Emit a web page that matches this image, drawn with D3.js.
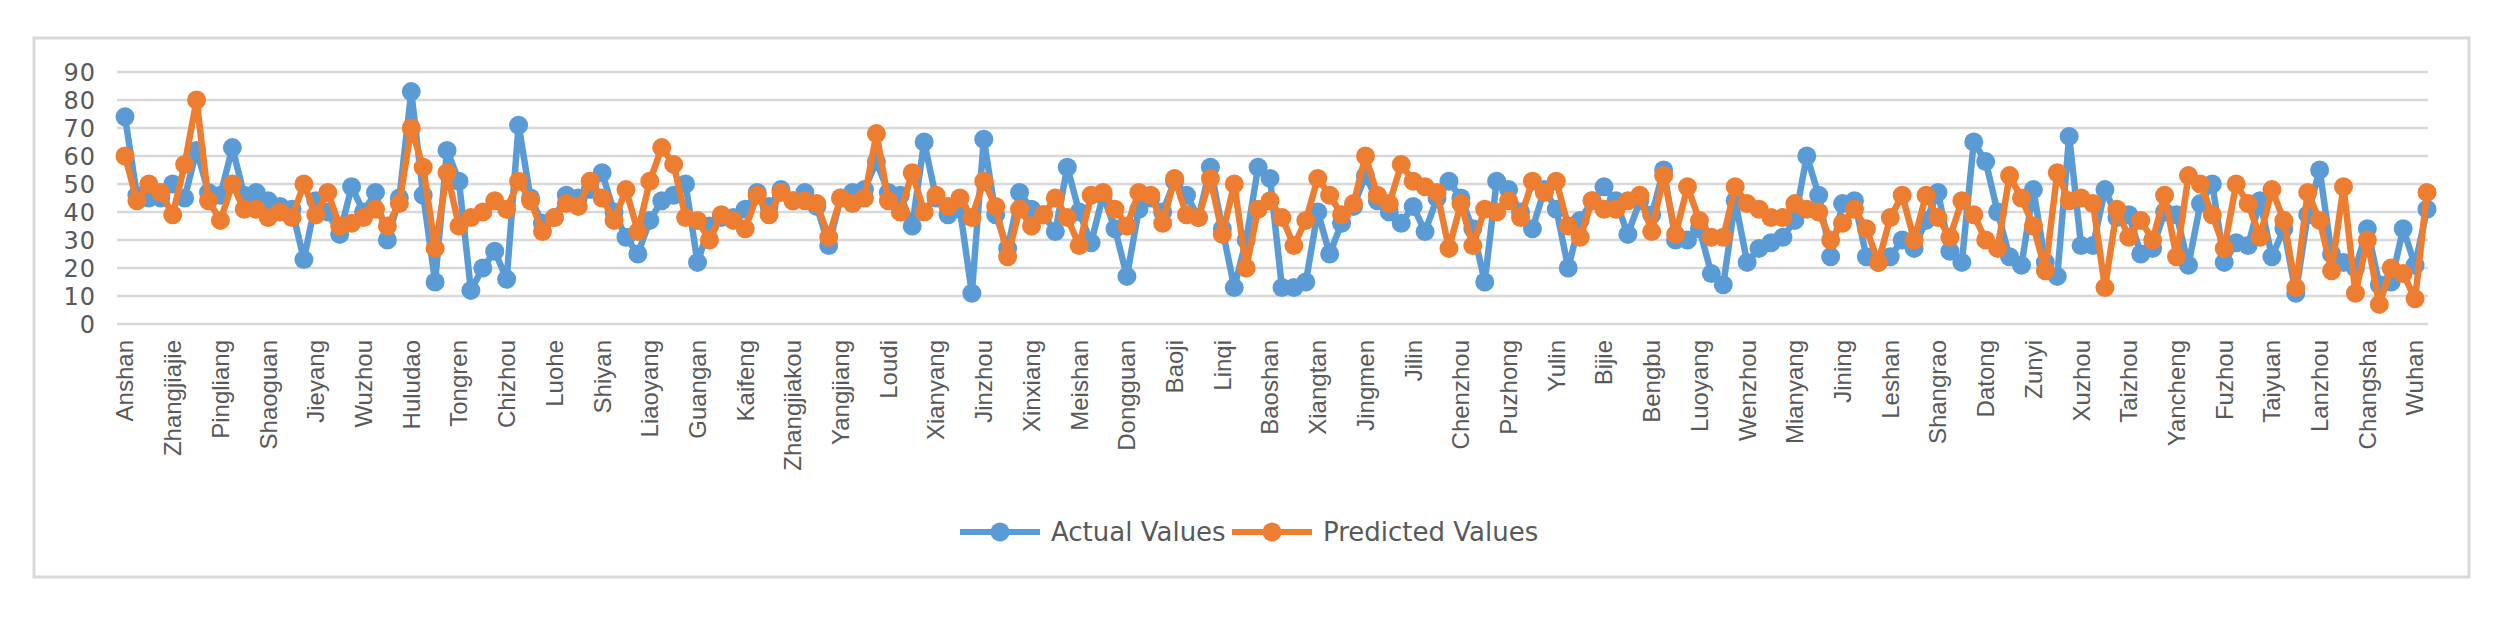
<!DOCTYPE html>
<html>
<head>
<meta charset="utf-8">
<script src="https://cdn.jsdelivr.net/npm/d3@7"></script>
<style>
  body { margin: 0; background: #fff; }
  svg { display: block; }
</style>
</head>
<body>
<svg id="chart" width="2502" height="622"></svg>
<script>
// labels shown on the axis, one every 4 points
var tickLabels = ["Anshan","Zhangjiajie","Pingliang","Shaoguan","Jieyang","Wuzhou","Huludao","Tongren","Chizhou","Luohe",
  "Shiyan","Liaoyang","Guangan","Kaifeng","Zhangjiakou","Yangjiang","Loudi","Xianyang","Jinzhou","Xinxiang",
  "Meishan","Dongguan","Baoji","Linqi","Baoshan","Xiangtan","Jingmen","Jilin","Chenzhou","Puzhong",
  "Yulin","Bijie","Bengbu","Luoyang","Wenzhou","Mianyang","Jining","Leshan","Shangrao","Datong",
  "Zunyi","Xuzhou","Taizhou","Yancheng","Fuzhou","Taiyuan","Lanzhou","Changsha","Wuhan"];
var labelStep = 4;

var actualValues = [74,46,45,45,50,45,62,47,46,63,46,47,44,42,41,23,44,40,32,49,40,47,30,45,83,46,15,62,51,12,
  20,26,16,71,45,36,38,46,45,48,54,40,31,25,37,44,46,50,22,35,38,38,41,47,42,48,44,47,42,28,
  45,47,48,58,47,46,35,65,45,39,41,11,66,39,27,47,41,39,33,56,40,29,46,34,17,41,45,40,51,46,
  38,56,34,13,30,56,52,13,13,15,40,25,36,42,53,44,40,36,42,33,45,51,45,34,15,51,48,40,34,48,
  41,20,37,44,49,44,32,44,39,55,30,30,34,18,14,44,22,27,29,31,37,60,46,24,43,44,24,22,24,30,
  27,37,47,26,22,65,58,40,24,21,48,22,17,67,28,28,48,38,39,25,27,40,39,21,43,50,22,29,28,44,
  24,34,11,39,55,25,22,20,34,14,15,34,21,41];
var predictedValues = [60,44,50,47,39,57,80,44,37,50,41,41,38,40,38,50,39,47,35,36,38,41,35,43,70,56,27,54,35,38,
  40,44,41,51,44,33,38,43,42,51,45,37,48,33,51,63,57,38,37,30,39,37,34,46,39,47,44,44,43,31,
  45,43,45,68,44,40,54,40,46,42,45,38,51,42,24,41,35,39,45,38,28,46,47,41,35,47,46,36,52,39,
  38,52,32,50,20,41,44,38,28,37,52,46,39,43,60,46,43,57,51,49,47,27,43,28,41,40,44,38,51,47,
  51,35,31,44,41,41,44,46,33,53,32,49,37,31,31,49,43,41,38,38,43,41,40,30,36,41,34,22,38,46,
  30,46,38,31,44,39,30,27,53,45,35,19,54,44,45,43,13,41,31,37,30,46,24,53,50,39,27,50,43,31,
  48,37,13,47,37,19,49,11,30,7,20,18,9,47];
var yTicks = [0,10,20,30,40,50,60,70,80,90];
var seriesNames = ["Actual Values","Predicted Values"];
var seriesColors = ["#5B9BD5","#ED7D31"];

var svg = d3.select("#chart");

// outer chart frame
svg.append("rect")
  .attr("x", 34).attr("y", 38).attr("width", 2435).attr("height", 539)
  .attr("fill", "#fff").attr("stroke", "#d9d9d9").attr("stroke-width", 3);

var idx = d3.range(actualValues.length);
var x = d3.scalePoint().domain(idx).range([125, 2427]);
var y = d3.scaleLinear().domain([0, 90]).range([324, 72]);

// gridlines
svg.append("g").selectAll("line").data(yTicks).join("line")
  .attr("x1", 117).attr("x2", 2428)
  .attr("y1", function(d) { return y(d); }).attr("y2", function(d) { return y(d); })
  .attr("stroke", "#d9d9d9").attr("stroke-width", 2.5);

// y labels
svg.append("g").selectAll("text").data(yTicks).join("text")
  .attr("x", 96).attr("y", function(d) { return y(d); })
  .attr("dy", "0.36em")
  .attr("text-anchor", "end")
  .style("font-family", "DejaVu Sans, sans-serif")
  .style("font-size", "24px")
  .style("letter-spacing", "1px")
  .attr("fill", "#595959")
  .text(function(d) { return d; });

// x labels (rotated)
svg.append("g").selectAll("text").data(tickLabels).join("text")
  .attr("transform", function(d, i) { return "translate(" + x(i * labelStep) + ",340) rotate(-90)"; })
  .attr("dy", "0.35em")
  .attr("text-anchor", "end")
  .style("font-family", "Liberation Sans, Arial, sans-serif")
  .style("font-size", "24px")
  .attr("fill", "#595959")
  .text(function(d) { return d; });

var line = d3.line()
  .x(function(d, i) { return x(i); })
  .y(function(d) { return y(d); });

[actualValues, predictedValues].forEach(function(vals, s) {
  var g = svg.append("g");
  g.append("path").datum(vals)
    .attr("d", line)
    .attr("fill", "none")
    .attr("stroke", seriesColors[s])
    .attr("stroke-width", 6.5)
    .attr("stroke-linejoin", "round");
  g.selectAll("circle").data(vals).join("circle")
    .attr("cx", function(d, i) { return x(i); })
    .attr("cy", function(d) { return y(d); })
    .attr("r", 9.5)
    .attr("fill", seriesColors[s]);
});

// legend
var legendX = [960, 1232];
var legend = svg.append("g");
seriesNames.forEach(function(name, s) {
  var lg = legend.append("g").attr("transform", "translate(" + legendX[s] + ",532)");
  lg.append("line").attr("x1", 0).attr("x2", 80).attr("y1", 0).attr("y2", 0)
    .attr("stroke", seriesColors[s]).attr("stroke-width", 6);
  lg.append("circle").attr("cx", 40).attr("cy", 0).attr("r", 9.5).attr("fill", seriesColors[s]);
  lg.append("text").attr("x", 91).attr("y", 0).attr("dy", "0.36em")
    .style("font-family", "DejaVu Sans, sans-serif")
    .style("font-size", "26px")
    .attr("fill", "#595959")
    .text(name);
});
</script>
</body>
</html>
